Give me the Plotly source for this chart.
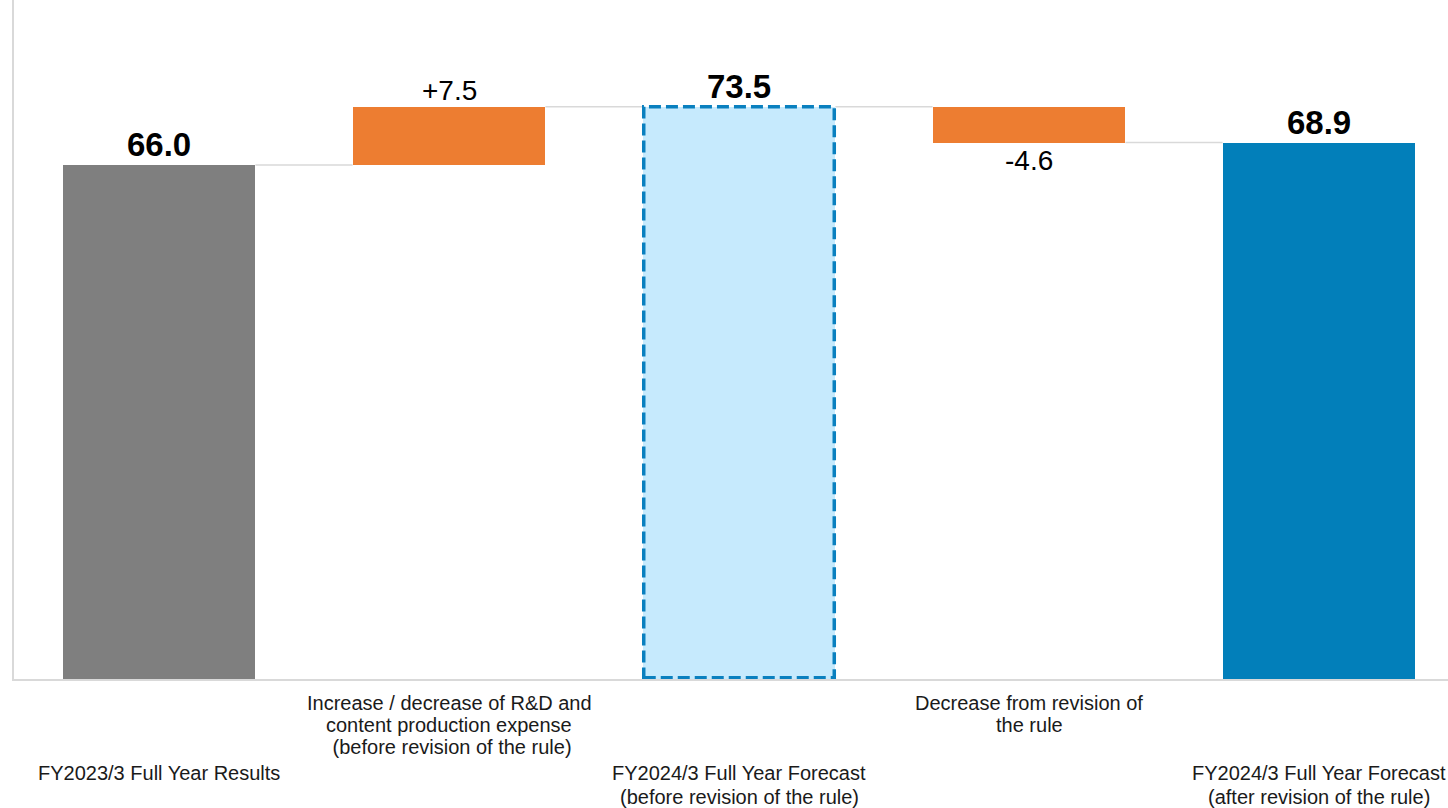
import plotly.graph_objects as go

# Waterfall data (billion yen)
categories = [
    "FY2023/3 Full Year Results",
    "Increase / decrease of R&D and<br>content production expense<br> (before revision of the rule)",
    "FY2024/3 Full Year Forecast<br>(before revision of the rule)",
    "Decrease from revision of<br>the rule",
    "FY2024/3 Full Year Forecast<br>(after revision of the rule)",
]
start_value = 66.0
deltas = [7.5, -4.6]
mid_total = 73.5
end_total = 68.9

x_idx = [0, 1, 2, 3, 4]
bar_w = 0.665

# bases / heights derived from the data
bases = [0, start_value, 0, mid_total + deltas[1], 0]
heights = [start_value, deltas[0], mid_total, -deltas[1], end_total]
colors = ["#7f7f7f", "#ed7d31", "#c6eafd", "#ed7d31", "#027fba"]
levels = [start_value, start_value + deltas[0], mid_total, end_total]

FONT = "Liberation Sans, Arial, sans-serif"

fig = go.Figure()
fig.add_trace(go.Bar(
    x=x_idx, y=heights, base=bases, width=bar_w,
    marker=dict(color=colors, line=dict(width=0)),
    hoverinfo="skip",
))

shapes = []
# connector lines between bars
for i, lv in enumerate(levels):
    shapes.append(dict(
        type="line", xref="x", yref="y",
        x0=x_idx[i] + bar_w / 2, x1=x_idx[i + 1] - bar_w / 2, y0=lv, y1=lv,
        line=dict(color="#d9d9d9", width=1.5), layer="below",
    ))
# dashed outline of the pre-revision forecast bar
shapes.append(dict(
    type="rect", xref="x", yref="y",
    x0=x_idx[2] - bar_w / 2 + 0.004, x1=x_idx[2] + bar_w / 2 - 0.004,
    y0=0.15, y1=mid_total,
    line=dict(color="#0a80bf", width=3.5, dash="12px,5px"),
    fillcolor="rgba(0,0,0,0)", layer="above",
))

annotations = []
# value labels
val_labels = [
    (0, start_value, "<b>66.0</b>", "bottom", 0, 33),
    (1, start_value + deltas[0], "+7.5", "bottom", -1, 28),
    (2, mid_total, "<b>73.5</b>", "bottom", 0, 33),
    (3, end_total, "-4.6", "top", 0, 28),
    (4, end_total, "<b>68.9</b>", "bottom", 0, 33),
]
for x, y, t, anchor, shift, size in val_labels:
    annotations.append(dict(
        x=x, y=y, xref="x", yref="y", text=t, showarrow=False,
        yanchor=anchor, yshift=shift, font=dict(size=size, color="#000000"),
    ))

# category labels, staggered in two rows, one annotation per line
upper_rows = [-24, -46, -68]
lower_rows = [-94, -118]
for i, lab in enumerate(categories):
    lines = lab.split("<br>")
    rows = upper_rows if i in (1, 3) else lower_rows
    for ln, dy in zip(lines, rows):
        annotations.append(dict(
            x=x_idx[i], y=0, yref="y", xref="x", text=ln, showarrow=False,
            yanchor="middle", yshift=dy,
            font=dict(size=20, color="#1a1a1a"),
        ))

fig.update_layout(
    width=1448, height=808,
    margin=dict(l=14, r=0, t=0, b=129),
    paper_bgcolor="white", plot_bgcolor="white",
    font=dict(family=FONT, color="#000000"),
    showlegend=False, bargap=0,
    shapes=shapes, annotations=annotations,
    xaxis=dict(range=[-0.5, -0.5 + 1434 / 290], showticklabels=False, showgrid=False,
               zeroline=False, showline=True, linecolor="#d9d9d9", linewidth=1.5,
               fixedrange=True),
    yaxis=dict(range=[0, 87.2], showticklabels=False, showgrid=False, zeroline=False,
               showline=True, linecolor="#d9d9d9", linewidth=1.5, fixedrange=True),
)

fig.write_html("out.html")
